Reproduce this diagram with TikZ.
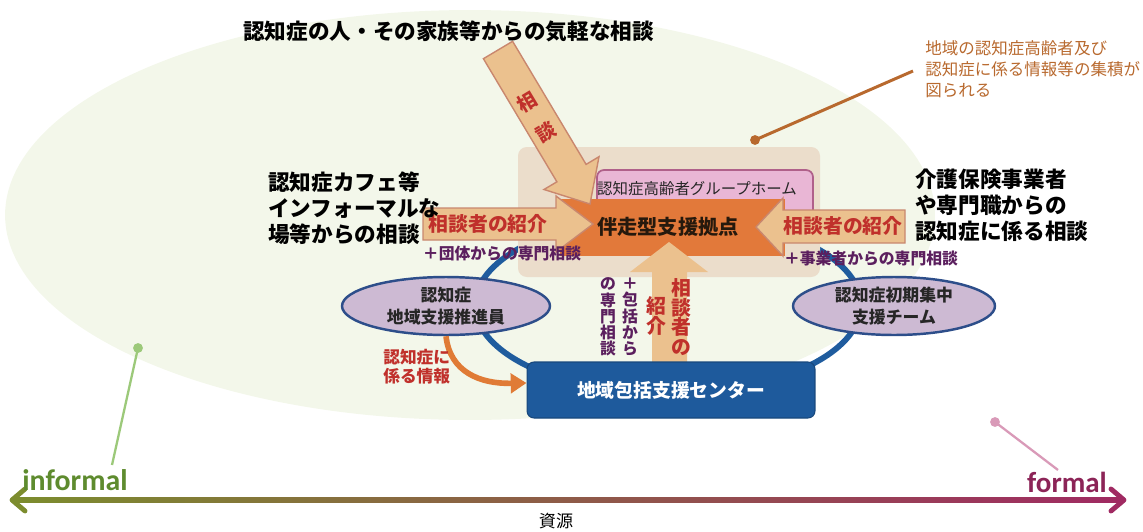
\documentclass[tikz,border=0pt]{standalone}
\usepackage{fontspec}
\newfontfamily\jp{Noto Sans CJK JP}
\newfontfamily\lat{Carlito}
\usetikzlibrary{arrows.meta,shapes.geometric}
\definecolor{bggreen}{HTML}{F3F7EA}
\definecolor{beige}{HTML}{EBDDCB}
\definecolor{pinkbox}{HTML}{E9B6D5}
\definecolor{pinkline}{HTML}{B0608A}
\definecolor{hubor}{HTML}{E2793A}
\definecolor{tanfill}{HTML}{EBC18E}
\definecolor{tanline}{HTML}{C9876E}
\definecolor{redtxt}{HTML}{C0302B}
\definecolor{purptxt}{HTML}{5B1F5E}
\definecolor{loopblue}{HTML}{1F5C9E}
\definecolor{boxblue}{HTML}{1E5A9C}
\definecolor{lav}{HTML}{CDBAD3}
\definecolor{ellline}{HTML}{2D4E8A}
\definecolor{notebrown}{HTML}{B8692E}
\definecolor{leadgreen}{HTML}{9CC97A}
\definecolor{leadpink}{HTML}{D99AB8}
\definecolor{axgreen}{HTML}{7C8C2E}
\definecolor{axmag}{HTML}{A02A62}
\definecolor{infgreen}{HTML}{5E8B2E}
\definecolor{formag}{HTML}{8C2457}
\definecolor{infoorange}{HTML}{E07B36}
\tikzset{
  bigtxt/.style={font=\jp\bfseries\fontsize{12.3}{14.8}\selectfont, align=left, inner sep=0pt, text=black},
  notetxt/.style={font=\jp\fontsize{9.4}{11.9}\selectfont, align=left, inner sep=0pt, text=notebrown},
  redlbl/.style={font=\jp\bfseries\fontsize{11.3}{11.3}\selectfont, align=center, inner sep=0pt, text=redtxt},
  purlbl/.style={font=\jp\bfseries\fontsize{9}{9.2}\selectfont, align=center, inner sep=0pt, text=purptxt},
  arrowshape/.style={fill=tanfill, draw=tanline, line width=0.8pt, line join=miter},
  ellnode/.style={ellipse, draw=ellline, line width=1.4pt, fill=lav, inner sep=0pt,
     font=\jp\bfseries\fontsize{9.6}{12.5}\selectfont, align=center, text=black!85},
  leadline/.style={line width=1.3pt},
  axtip/.style={line width=2.8pt, line cap=round, line join=round},
}
\begin{document}
\begin{tikzpicture}[x=0.02cm,y=-0.02cm]
\useasboundingbox (0,0) rectangle (1143,531);
% background
\fill[bggreen] (470,215) ellipse [x radius=9.3cm, y radius=4.1cm];
% lead lines
\coordinate (gd) at (138,348); \coordinate (ge) at (112,465);
\draw[leadline, leadgreen] (gd) -- (ge); \fill[leadgreen] (gd) circle (2.8pt);
\coordinate (pd) at (995,422); \coordinate (pe) at (1058,470);
\draw[leadline, leadpink] (pd) -- (pe); \fill[leadpink] (pd) circle (2.8pt);
\coordinate (bd) at (755,140); \coordinate (be) at (913,71);
\draw[line width=1.7pt, notebrown] (bd) -- (be); \fill[notebrown] (bd) circle (2.8pt);
% blue loop
\draw[loopblue, line width=3.3pt] (668,305) ellipse [x radius=3.86cm, y radius=1.78cm];
% beige box and group home
\fill[beige, rounded corners=5pt] (518,147) rectangle (820,277);
\draw[pinkline, fill=pinkbox, line width=1pt, rounded corners=4pt] (597,170) rectangle (813,238);
\node[font=\jp\fontsize{8.8}{10}\selectfont, text=black!85, inner sep=0pt] (gh) at (697,189) {認知症高齢者グループホーム};
% orange hub
\fill[hubor] (560,199) -- (785,199) -- (785,256) -- (560,256) -- cycle;
% diagonal arrow
\draw[arrowshape] (483.4,58.7) -- (556.9,181.8) -- (544.0,189.5) -- (590,204) -- (599.0,156.7) -- (586.1,164.4) -- (512.6,41.3) -- cycle;
\node[font=\jp\bfseries\fontsize{11}{11}\selectfont, text=redtxt, rotate=31, inner sep=0pt] (d1) at (527,102) {相};
\node[font=\jp\bfseries\fontsize{11}{11}\selectfont, text=redtxt, rotate=31, inner sep=0pt] (d2) at (546,132) {談};
% left arrow
\draw[arrowshape] (423,208) -- (556,208) -- (556,196) -- (593,224) -- (556,252) -- (556,240) -- (423,240) -- cycle;
\node[redlbl] (ll) at (488,224) {相談者の紹介};
% right arrow
\draw[arrowshape] (905,210) -- (783,210) -- (783,198) -- (756,227) -- (783,256) -- (783,243) -- (905,243) -- cycle;
\node[redlbl] (rl) at (843,226) {相談者の紹介};
% up arrow
\fill[tanfill] (652,362) -- (652,272) -- (630,272) -- (669,242) -- (708,272) -- (687,272) -- (687,362) -- cycle;
\node[redlbl] (u1) at (681,317) {相\\談\\者\\の};
\node[redlbl] (u2) at (656,316) {紹\\介};
\node[purlbl] (u3) at (630,317) {＋\\包\\括\\か\\ら};
\node[purlbl] (u4) at (608,317) {の\\専\\門\\相\\談};
% hub text
\node[font=\jp\bfseries\fontsize{11.5}{12}\selectfont, text=black!80!brown, inner sep=0pt] (hub) at (668,227) {伴走型支援拠点};
% small purple labels
\node[font=\jp\bfseries\fontsize{9}{10}\selectfont, text=purptxt, inner sep=0pt] (pl) at (502,254) {＋団体からの専門相談};
\node[font=\jp\bfseries\fontsize{9}{10}\selectfont, text=purptxt, inner sep=0pt] (pr) at (871,259) {＋事業者からの専門相談};
% ellipses
\node[ellnode, minimum width=4.16cm, minimum height=1.16cm] (le) at (446,306) {認知症\\地域支援推進員};
\node[ellnode, minimum width=4.04cm, minimum height=1.16cm] (re) at (894,306) {認知症初期集中\\支援チーム};
% center box
\node[fill=boxblue, draw=boxblue!80!black, line width=0.6pt, rounded corners=4pt, minimum width=5.76cm, minimum height=1.12cm,
      font=\jp\bfseries\fontsize{10.7}{12}\selectfont, text=white] (cb) at (671,390) {地域包括支援センター};
% info arrow
\draw[infoorange, line width=3.2pt, -{Triangle[length=9pt,width=11pt]}] (le.south) .. controls (450,372) and (480,384) .. ([yshift=0.14cm]cb.west);
\node[font=\jp\bfseries\fontsize{9.5}{10.8}\selectfont, text=redtxt, align=left, inner sep=0pt, anchor=west] (info) at (383,367) {認知症に\\係る情報};
% big texts
\node[bigtxt, anchor=west] (title) at (243,31) {認知症の人・その家族等からの気軽な相談};
\node[bigtxt, anchor=west] (lt) at (268,208) {認知症カフェ等\\インフォーマルな\\場等からの相談};
\node[bigtxt, anchor=west] (rt) at (915,205) {介護保険事業者\\や専門職からの\\認知症に係る相談};
\node[notetxt, anchor=west] (note) at (925,69) {地域の認知症高齢者及び\\認知症に係る情報等の集積が\\図られる};
% axis
\coordinate (axl) at (12,500); \coordinate (axr) at (1124,500);
\shade[left color=axgreen, middle color=gray!90, right color=axmag] (16,497.5) rectangle (1120,502.5);
\draw[axtip, axgreen] (25,489) -- (axl) -- (25,511);
\draw[axtip, axmag] (1111,489) -- (axr) -- (1111,511);
\node[font=\lat\bfseries\fontsize{17}{18}\selectfont, text=infgreen, inner sep=0pt] (inf) at (75,480) {informal};
\node[font=\lat\bfseries\fontsize{16.5}{18}\selectfont, text=formag, inner sep=0pt] (for) at (1067,482) {formal};
\node[font=\jp\fontsize{9.7}{11}\selectfont, text=black, inner sep=0pt] (src) at (556,521) {資源};
\end{tikzpicture}
\end{document}
